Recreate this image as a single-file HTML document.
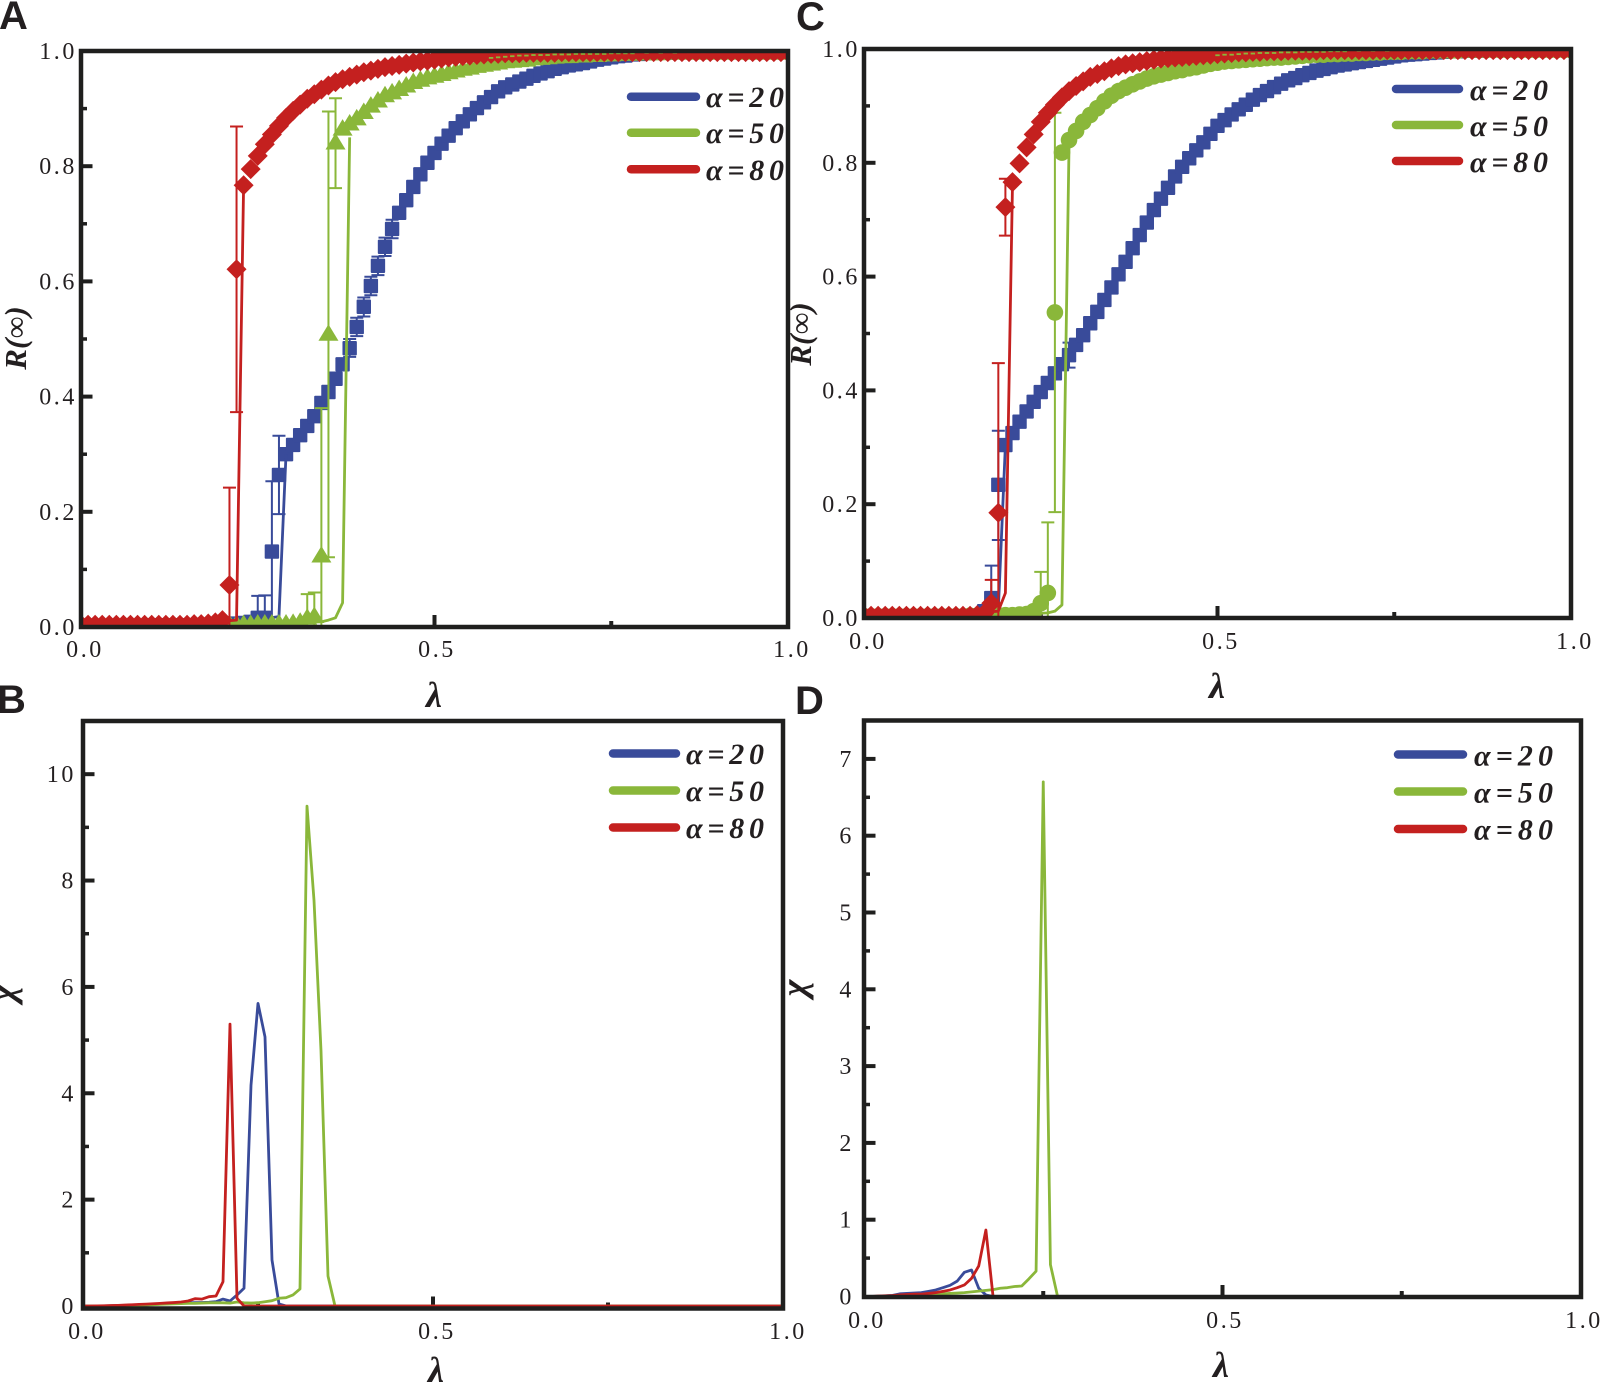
<!DOCTYPE html>
<html lang="en">
<head>
<meta charset="utf-8">
<title>R(∞) and χ versus λ</title>
<style>
html,body{margin:0;padding:0;background:#fff;}
svg{display:block;}
text{font-family:"Liberation Serif",serif;fill:#231f20;}
.tick{font-size:24px;letter-spacing:2.6px;}
.title{font-size:31px;font-weight:bold;font-style:italic;}
.greek{font-size:36px;font-weight:bold;font-style:italic;}
.leg{font-size:30px;font-weight:bold;font-style:italic;}
.letter{font-family:"Liberation Sans",sans-serif;font-size:40px;font-weight:bold;fill:#231f20;}
.frame{fill:none;stroke:#1f1f1e;stroke-width:4.5;}
.legline{stroke-width:8.5;stroke-linecap:round;}
</style>
</head>
<body>
<svg id="figure" xmlns="http://www.w3.org/2000/svg" width="1600" height="1384" viewBox="0 0 1600 1384">
  <defs>
    <clipPath id="clip-a"><rect x="81" y="51" width="707" height="577"/></clipPath>
    <clipPath id="clip-c"><rect x="864" y="49" width="707" height="570"/></clipPath>
  </defs>
  <rect x="0" y="0" width="1600" height="1384" fill="#fff"/>

  <g>
    <g id="ticks-a"></g>
    <g id="series-a" clip-path="url(#clip-a)"></g>
    <rect class="frame" x="81" y="51" width="707" height="576"/>
    <text class="letter" x="-1" y="29">A</text>
    <text class="title" transform="translate(26,338) rotate(-90)" text-anchor="middle">R(∞)</text>
    <text class="greek" x="434" y="707" text-anchor="middle">λ</text>
    <g>
      <line class="legline" x1="631" x2="696" y1="96.7" y2="96.7" stroke="#394b9a"/>
      <text class="leg" x="706" y="107" textLength="78">α=20</text>
      <line class="legline" x1="631" x2="696" y1="132.7" y2="132.7" stroke="#8ab73a"/>
      <text class="leg" x="706" y="143" textLength="78">α=50</text>
      <line class="legline" x1="631" x2="696" y1="169.3" y2="169.3" stroke="#c4201f"/>
      <text class="leg" x="706" y="180" textLength="78">α=80</text>
    </g>
  </g>

  <g>
    <g id="ticks-c"></g>
    <g id="series-c" clip-path="url(#clip-c)"></g>
    <rect class="frame" x="864" y="49" width="707" height="569"/>
    <text class="letter" x="796" y="30">C</text>
    <text class="title" transform="translate(811,334) rotate(-90)" text-anchor="middle">R(∞)</text>
    <text class="greek" x="1217" y="698" text-anchor="middle">λ</text>
    <g>
      <line class="legline" x1="1396" x2="1459" y1="89" y2="89" stroke="#394b9a"/>
      <text class="leg" x="1470" y="100" textLength="78">α=20</text>
      <line class="legline" x1="1396" x2="1459" y1="125" y2="125" stroke="#8ab73a"/>
      <text class="leg" x="1470" y="136" textLength="78">α=50</text>
      <line class="legline" x1="1396" x2="1459" y1="161" y2="161" stroke="#c4201f"/>
      <text class="leg" x="1470" y="172" textLength="78">α=80</text>
    </g>
  </g>

  <g>
    <g id="ticks-b"></g>
    <g id="series-b"></g>
    <rect class="frame" x="83" y="721" width="700" height="587.5"/>
    <text class="letter" x="-3" y="713">B</text>
    <text class="greek" transform="translate(15,993) rotate(-90)" text-anchor="middle">χ</text>
    <text class="greek" x="436" y="1382" text-anchor="middle">λ</text>
    <g>
      <line class="legline" x1="613" x2="676" y1="753.5" y2="753.5" stroke="#394b9a"/>
      <text class="leg" x="686" y="764" textLength="78">α=20</text>
      <line class="legline" x1="613" x2="676" y1="790.5" y2="790.5" stroke="#8ab73a"/>
      <text class="leg" x="686" y="801" textLength="78">α=50</text>
      <line class="legline" x1="613" x2="676" y1="827.5" y2="827.5" stroke="#c4201f"/>
      <text class="leg" x="686" y="838" textLength="78">α=80</text>
    </g>
  </g>

  <g>
    <g id="ticks-d"></g>
    <g id="series-d"></g>
    <rect class="frame" x="864" y="720.5" width="717" height="576.5"/>
    <text class="letter" x="795" y="714">D</text>
    <text class="greek" transform="translate(806,988) rotate(-90)" text-anchor="middle">χ</text>
    <text class="greek" x="1221" y="1377" text-anchor="middle">λ</text>
    <g>
      <line class="legline" x1="1398" x2="1463" y1="754.5" y2="754.5" stroke="#394b9a"/>
      <text class="leg" x="1474" y="765.5" textLength="79">α=20</text>
      <line class="legline" x1="1398" x2="1463" y1="791.5" y2="791.5" stroke="#8ab73a"/>
      <text class="leg" x="1474" y="802.5" textLength="79">α=50</text>
      <line class="legline" x1="1398" x2="1463" y1="829" y2="829" stroke="#c4201f"/>
      <text class="leg" x="1474" y="839.5" textLength="79">α=80</text>
    </g>
  </g>
</svg>

<script>
/* ---------- shared categories ---------- */
const lambdaGrid = [0,
.01,.02,.03,.04,.05,.06,.07,.08,.09,.10,
.11,.12,.13,.14,.15,.16,.17,.18,.19,.20,
.21,.22,.23,.24,.25,.26,.27,.28,.29,.30,
.31,.32,.33,.34,.35,.36,.37,.38,.39,.40,
.41,.42,.43,.44,.45,.46,.47,.48,.49,.50,
.51,.52,.53,.54,.55,.56,.57,.58,.59,.60,
.61,.62,.63,.64,.65,.66,.67,.68,.69,.70,
.71,.72,.73,.74,.75,.76,.77,.78,.79,.80,
.81,.82,.83,.84,.85,.86,.87,.88,.89,.90,
.91,.92,.93,.94,.95,.96,.97,.98,.99,1.0];

/* ---------- tick labels ---------- */
const xTickValues = [0, 0.5, 1];
const xTickLabels = ["0.0", "0.5", "1.0"];
const xMinorTicks = [0.25, 0.75];
const rTickValues = [0, 0.2, 0.4, 0.6, 0.8, 1];
const rTickLabels = ["0.0", "0.2", "0.4", "0.6", "0.8", "1.0"];
const rMinorTicks = [0.1, 0.3, 0.5, 0.7, 0.9];
const chiBTickValues = [0, 2, 4, 6, 8, 10];
const chiBTickLabels = ["0", "2", "4", "6", "8", "10"];
const chiBMinorTicks = [1, 3, 5, 7, 9];
const chiDTickValues = [0, 1, 2, 3, 4, 5, 6, 7];
const chiDTickLabels = ["0", "1", "2", "3", "4", "5", "6", "7"];
const chiDMinorTicks = [0.5, 1.5, 2.5, 3.5, 4.5, 5.5, 6.5];

/* ---------- panel A: R(inf) markers ---------- */
const rABlue = [.002,
.002,.002,.002,.002,.002,.002,.002,.002,.002,.003,
.003,.003,.003,.003,.003,.003,.004,.004,.004,.005,
.005,.006,.007,.009,.016,.016,.131,.264,.300,.316,
.333,.349,.366,.389,.408,.431,.456,.484,.521,.556,
.592,.627,.660,.691,.719,.741,.764,.786,.806,.823,
.839,.853,.866,.878,.890,.901,.911,.920,.930,.937,
.942,.947,.952,.957,.961,.965,.969,.972,.975,.977,
.979,.982,.985,.987,.989,.991,.992,.994,.995,.996,
.997,.997,.997,.998,.998,.998,.998,.998,.998,.998,
.998,.998,.998,.998,.998,.998,.998,.998,.998,.998];
const rAGreen = [.003,
.003,.003,.003,.003,.003,.003,.003,.003,.003,.004,
.004,.004,.004,.004,.004,.004,.005,.005,.005,.006,
.006,.006,.006,.006,.007,.007,.007,.007,.007,.008,
.010,.017,.020,.125,.510,.842,.866,.875,.884,.895,
.906,.915,.924,.929,.935,.941,.947,.951,.955,.958,
.961,.964,.967,.970,.972,.975,.977,.979,.981,.983,
.984,.985,.986,.988,.989,.990,.991,.992,.992,.993,
.993,.994,.994,.995,.995,.996,.996,.996,.997,.997,
.997,.997,.998,.998,.998,.998,.998,.998,.998,.998,
.998,.998,.998,.998,.998,.998,.998,.998,.998,.998];
const rARed = [.004,
.004,.004,.004,.004,.004,.004,.004,.004,.004,.004,
.004,.004,.004,.004,.004,.005,.005,.006,.008,.012,
.073,.621,.767,.795,.818,.838,.855,.870,.884,.896,
.907,.917,.925,.933,.940,.946,.951,.955,.959,.963,
.966,.969,.972,.974,.976,.978,.980,.982,.983,.985,
.987,.989,.990,.991,.992,.993,.994,.995,.995,.996,
.996,.996,.997,.997,.997,.997,.997,.998,.998,.998,
.998,.998,.998,.998,.998,.998,.998,.998,.998,.998,
.998,.998,.998,.998,.998,.998,.998,.998,.998,.998,
.998,.998,.998,.998,.998,.998,.998,.998,.998,.998];

/* panel A: error bars */
const errABlueLambda = [.25,.26,.27,.28,.38,.39,.40,.41,.42,.43,.44];
const errABlueLow    = [.005,.005,.010,.196,.469,.505,.539,.576,.611,.644,.675];
const errABlueHigh   = [.054,.055,.253,.332,.500,.537,.572,.608,.643,.676,.707];
const errAGreenLambda = [.32,.33,.34,.35,.36];
const errAGreenLow    = [.000,.000,.000,.121,.762];
const errAGreenHigh   = [.057,.060,.380,.895,.918];
const errARedLambda = [.21,.22];
const errARedLow    = [.000,.373];
const errARedHigh   = [.242,.869];

/* panel A: thin lines, up to the top of each jump */
const lineABlueLambda = [0,.20,.28,.29];
const lineABlueValue  = [.002,.005,.018,.300];
const lineAGreenLambda = [0,.20,.34,.35,.36,.37,.38];
const lineAGreenValue  = [.003,.006,.009,.012,.016,.042,.850];
const lineARedLambda = [0,.20,.22,.23];
const lineARedValue  = [.004,.010,.012,.767];

/* panel A: small error caps that show over the saturated band */
const capAGreenLambda = [.58,.59,.60,.61,.62,.63,.64,.65,.66,.67,.68,.69,.70,.71,.72,.73,.74,.75,.76,.77,.78,.80,.82,.84,.86,.88];
const capAGreenValue  = [.988,.989,.990,.991,.992,.992,.993,.993,.993,.994,.994,.994,.995,.995,.995,.995,.995,.996,.996,.996,.996,.997,.997,.997,.998,.998];

/* ---------- panel C: R(inf) markers ---------- */
const rCBlue = [.002,
.002,.002,.002,.002,.002,.002,.002,.002,.002,.003,
.003,.003,.003,.003,.004,.005,.012,.035,.234,.304,
.325,.345,.363,.380,.397,.413,.430,.446,.462,.480,
.497,.518,.538,.559,.581,.604,.626,.650,.673,.695,
.717,.737,.756,.776,.793,.808,.822,.836,.851,.865,
.875,.885,.894,.902,.911,.919,.926,.933,.939,.945,
.949,.954,.958,.962,.965,.968,.971,.973,.975,.977,
.979,.981,.983,.985,.987,.989,.990,.991,.992,.993,
.994,.995,.996,.996,.997,.997,.997,.998,.998,.998,
.998,.998,.998,.998,.998,.998,.998,.998,.998,.998];
const rCGreen = [.003,
.003,.003,.003,.003,.003,.003,.003,.003,.003,.003,
.003,.003,.003,.003,.004,.004,.004,.005,.005,.005,
.005,.006,.007,.012,.026,.044,.537,.818,.840,.856,
.872,.884,.896,.908,.918,.926,.932,.938,.943,.948,
.952,.955,.958,.961,.963,.966,.968,.971,.974,.976,
.978,.979,.980,.981,.982,.983,.984,.985,.985,.986,
.987,.988,.989,.990,.990,.991,.991,.992,.992,.993,
.993,.994,.994,.995,.995,.995,.996,.996,.996,.997,
.997,.997,.997,.997,.998,.998,.998,.998,.998,.998,
.998,.998,.998,.998,.998,.998,.998,.998,.998,.998];
const rCRed = [.004,
.004,.004,.004,.004,.004,.004,.004,.004,.004,.004,
.004,.004,.004,.004,.004,.005,.008,.026,.185,.722,
.766,.799,.827,.850,.872,.888,.902,.915,.926,.935,
.943,.951,.956,.961,.966,.970,.973,.975,.977,.979,
.981,.983,.984,.985,.986,.987,.988,.989,.990,.991,
.992,.993,.994,.994,.995,.995,.996,.996,.996,.997,
.997,.997,.997,.997,.998,.998,.998,.998,.998,.998,
.998,.998,.998,.998,.998,.998,.998,.998,.998,.998,
.998,.998,.998,.998,.998,.998,.998,.998,.998,.998,
.998,.998,.998,.998,.998,.998,.998,.998,.998,.998];

/* panel C: error bars */
const errCBlueLambda = [.18,.19,.29];
const errCBlueLow    = [.000,.137,.440];
const errCBlueHigh   = [.092,.329,.484];
const errCGreenLambda = [.25,.26,.27];
const errCGreenLow    = [.000,.000,.186];
const errCGreenHigh   = [.081,.168,.888];
const errCRedLambda = [.18,.19,.20];
const errCRedLow    = [.000,.000,.672];
const errCRedHigh   = [.067,.448,.772];

/* panel C: thin lines, up to the top of each jump */
const lineCBlueLambda = [0,.18,.19,.20];
const lineCBlueValue  = [.002,.012,.015,.304];
const lineCGreenLambda = [0,.20,.26,.27,.28,.29];
const lineCGreenValue  = [.003,.005,.009,.012,.023,.830];
const lineCRedLambda = [0,.18,.19,.20,.21];
const lineCRedValue  = [.004,.011,.012,.044,.760];

/* panel C: small error caps that show over the saturated band */
const capCGreenLambda = [.50,.51,.52,.53,.54,.55,.56,.57,.58,.59,.60,.61,.62,.63,.64,.65,.66,.67,.68,.70,.72,.74,.76];
const capCGreenValue  = [.989,.990,.990,.991,.992,.992,.993,.993,.993,.994,.994,.994,.995,.995,.995,.995,.996,.996,.996,.997,.997,.997,.998];

/* ---------- panel B: chi ---------- */
const chiBLambda = [0,.01,.02,.03,.04,.05,.06,.07,.08,.09,.10,.11,.12,.13,.14,.15,.16,.17,.18,.19,.20,.21,.22,.23,.24,.25,.26,.27,.28,.29,.30,.31,.32,.33,.34,.35,.36,1];
const chiBBlue  = [0,0,0,.003,.005,.008,.010,.013,.016,.020,.030,.035,.040,.050,.055,.060,.062,.065,.070,.081,.130,.094,.207,.333,4.15,5.69,5.06,.865,.038,0,0,0,0,0,0,0,0,0];
const chiBGreen = [0,0,0,0,0,0,.005,.010,.015,.020,.025,.030,.035,.040,.045,.050,.050,.055,.060,.060,.060,.055,.075,.060,.055,.062,.080,.100,.145,.156,.207,.320,9.40,7.63,4.80,.564,0,0];
const chiBRed   = [0,0,.003,.005,.008,.012,.018,.024,.030,.036,.042,.050,.058,.065,.075,.094,.137,.130,.175,.188,.457,5.30,.145,0,0,0,0,0,0,0,0,0,0,0,0,0,0,0];

/* ---------- panel D: chi ---------- */
const chiDLambda = [0,.01,.02,.03,.04,.05,.06,.07,.08,.09,.10,.11,.12,.13,.14,.15,.16,.17,.18,.19,.20,.21,.22,.23,.24,.25,.26,.27,1];
const chiDBlue  = [0,0,.003,.008,.015,.035,.040,.045,.050,.067,.085,.115,.146,.200,.315,.345,.107,.020,0,0,0,0,0,0,0,0,0,0,0];
const chiDGreen = [0,0,0,.002,.005,.010,.015,.020,.025,.030,.033,.036,.040,.045,.050,.060,.070,.080,.090,.107,.115,.130,.137,.230,.330,6.70,.415,0,0];
const chiDRed   = [0,0,.006,.010,.012,.020,.025,.030,.030,.040,.050,.067,.085,.115,.150,.237,.397,.866,0,0,0,0,0,0,0,0,0,0,0];

/* ---------- drawing ---------- */
const NS = "http://www.w3.org/2000/svg";
const BLUE = "#394b9a", GREEN = "#8ab73a", RED = "#c4201f";

function create(tag, parent, attrs) {
  const el = document.createElementNS(NS, tag);
  for (const k in attrs) el.setAttribute(k, attrs[k]);
  parent.appendChild(el);
  return el;
}
function xScale(p, v) { return p.x0 + (p.x1 - p.x0) * v; }
function yScale(p, v) { return p.y0 - (p.y0 - p.y1) * v / p.yMax; }

function drawAxes(p) {
  const g = document.getElementById("ticks-" + p.id);
  p.yTicks.forEach(function (v, i) {
    const y = yScale(p, v);
    if (v > 0 && v < p.yMax) {
      const t = create("line", g, {x1: p.x0, x2: p.x0 + 11.5, y1: y, y2: y, stroke: "#1f1f1e", "stroke-width": 4});
      
      
    }
    const l = create("text", g, {class: "tick", x: p.yLabelX, y: y + 8, "text-anchor": "end"});
    
    
    l.textContent = p.yLabels[i];
  });
  p.yMinor.forEach(function (v) {
    const y = yScale(p, v);
    const t = create("line", g, {x1: p.x0, x2: p.x0 + 6, y1: y, y2: y, stroke: "#1f1f1e", "stroke-width": 3.5});
    
    
  });
  xTickValues.forEach(function (v, i) {
    const x = xScale(p, v);
    if (v > 0 && v < 1) {
      const t = create("line", g, {x1: x, x2: x, y1: p.frameBottom, y2: p.frameBottom - 12, stroke: "#1f1f1e", "stroke-width": 4});
      
      
    }
    const l = create("text", g, {class: "tick", x: p.xLabelX[i], y: p.xLabelY, "text-anchor": "middle"});
    
    
    l.textContent = xTickLabels[i];
  });
  xMinorTicks.forEach(function (v) {
    const x = xScale(p, v);
    const t = create("line", g, {x1: x, x2: x, y1: p.frameBottom, y2: p.frameBottom - 6, stroke: "#1f1f1e", "stroke-width": 4});
    
    
  });
}

function drawLine(p, g, xs, ys, color, width) {
  const pts = xs.map(function (v, i) { return xScale(p, v).toFixed(2) + "," + yScale(p, ys[i]).toFixed(2); }).join(" ");
  const el = create("polyline", g, {points: pts, fill: "none", stroke: color, "stroke-width": width, "stroke-linejoin": "round"});
  
  
}

function drawErrors(p, g, xs, lows, highs, color) {
  xs.forEach(function (v, i) {
    const x = xScale(p, v), yl = Math.min(yScale(p, lows[i]), p.y0), yh = yScale(p, highs[i]);
    const bar = create("path", g, {
      d: "M" + x + " " + yl + "V" + yh + "M" + (x - 6.5) + " " + yh + "H" + (x + 6.5) + "M" + (x - 6.5) + " " + yl + "H" + (x + 6.5),
      fill: "none", stroke: color, "stroke-width": 2
    });
    
    
  });
}

function drawCaps(p, g, xs, ys, color) {
  xs.forEach(function (v, i) {
    const x = xScale(p, v), y = yScale(p, ys[i]);
    const cap = create("line", g, {x1: x - 2.2, x2: x + 2.2, y1: y, y2: y, stroke: color, "stroke-width": 1.8});
    
    
  });
}

function drawMarkers(p, g, xs, ys, shape, color) {
  xs.forEach(function (v, i) {
    const x = xScale(p, v), y = yScale(p, ys[i]);
    let m;
    if (shape === "square") {
      m = create("rect", g, {x: x - 7.2, y: y - 7.2, width: 14.4, height: 14.4, rx: 1, fill: color});
    } else if (shape === "diamond") {
      m = create("polygon", g, {points: x + "," + (y - 10) + " " + (x + 10) + "," + y + " " + x + "," + (y + 10) + " " + (x - 10) + "," + y, fill: color});
    } else if (shape === "triangle") {
      m = create("polygon", g, {points: x + "," + (y - 9) + " " + (x + 10) + "," + (y + 7.5) + " " + (x - 10) + "," + (y + 7.5), fill: color});
    } else {
      m = create("circle", g, {cx: x, cy: y, r: 8.3, fill: color});
    }
    
    
  });
}

const panelA = {id: "a", x0: 81, x1: 788, y0: 627, y1: 51, frameBottom: 627, yMax: 1,
  yTicks: rTickValues, yLabels: rTickLabels, yMinor: rMinorTicks, yLabelX: 77, xLabelX: [85, 437, 792], xLabelY: 657};
const panelC = {id: "c", x0: 864, x1: 1571, y0: 618, y1: 49, frameBottom: 618, yMax: 1,
  yTicks: rTickValues, yLabels: rTickLabels, yMinor: rMinorTicks, yLabelX: 860, xLabelX: [868, 1221, 1575], xLabelY: 649};
const panelB = {id: "b", x0: 83, x1: 783, y0: 1306, y1: 721, frameBottom: 1308.5, yMax: 11,
  yTicks: chiBTickValues, yLabels: chiBTickLabels, yMinor: chiBMinorTicks, yLabelX: 76, xLabelX: [87, 437, 788], xLabelY: 1339};
const panelD = {id: "d", x0: 864, x1: 1581, y0: 1296.5, y1: 720.5, frameBottom: 1297, yMax: 7.5,
  yTicks: chiDTickValues, yLabels: chiDTickLabels, yMinor: chiDMinorTicks, yLabelX: 854, xLabelX: [867, 1225, 1584], xLabelY: 1328};

[panelA, panelC, panelB, panelD].forEach(drawAxes);

function drawRSeries(p, list) {
  const root = document.getElementById("series-" + p.id);
  list.forEach(function (s) {
    const g = create("g", root, {});
    
    
    drawErrors(p, g, s.errX, s.errLow, s.errHigh, s.color);
    drawMarkers(p, g, lambdaGrid, s.values, s.shape, s.color);
    drawLine(p, g, s.lineX, s.lineY, s.color, 2.8);
  });
}

drawRSeries(panelA, [
  {name: "alpha-20", color: BLUE, shape: "square", values: rABlue, errX: errABlueLambda, errLow: errABlueLow, errHigh: errABlueHigh, lineX: lineABlueLambda, lineY: lineABlueValue},
  {name: "alpha-50", color: GREEN, shape: "triangle", values: rAGreen, errX: errAGreenLambda, errLow: errAGreenLow, errHigh: errAGreenHigh, lineX: lineAGreenLambda, lineY: lineAGreenValue},
  {name: "alpha-80", color: RED, shape: "diamond", values: rARed, errX: errARedLambda, errLow: errARedLow, errHigh: errARedHigh, lineX: lineARedLambda, lineY: lineARedValue}
]);
drawRSeries(panelC, [
  {name: "alpha-20", color: BLUE, shape: "square", values: rCBlue, errX: errCBlueLambda, errLow: errCBlueLow, errHigh: errCBlueHigh, lineX: lineCBlueLambda, lineY: lineCBlueValue},
  {name: "alpha-50", color: GREEN, shape: "circle", values: rCGreen, errX: errCGreenLambda, errLow: errCGreenLow, errHigh: errCGreenHigh, lineX: lineCGreenLambda, lineY: lineCGreenValue},
  {name: "alpha-80", color: RED, shape: "diamond", values: rCRed, errX: errCRedLambda, errLow: errCRedLow, errHigh: errCRedHigh, lineX: lineCRedLambda, lineY: lineCRedValue}
]);
drawCaps(panelA, document.getElementById("series-a"), capAGreenLambda, capAGreenValue, GREEN);
drawCaps(panelC, document.getElementById("series-c"), capCGreenLambda, capCGreenValue, GREEN);

const seriesB = document.getElementById("series-b");
drawLine(panelB, seriesB, chiBLambda, chiBBlue, BLUE, 2.8);
drawLine(panelB, seriesB, chiBLambda, chiBGreen, GREEN, 2.8);
drawLine(panelB, seriesB, chiBLambda, chiBRed, RED, 2.8);

const seriesD = document.getElementById("series-d");
drawLine(panelD, seriesD, chiDLambda, chiDBlue, BLUE, 2.8);
drawLine(panelD, seriesD, chiDLambda, chiDGreen, GREEN, 2.8);
drawLine(panelD, seriesD, chiDLambda, chiDRed, RED, 2.8);
</script>
</body>
</html>
